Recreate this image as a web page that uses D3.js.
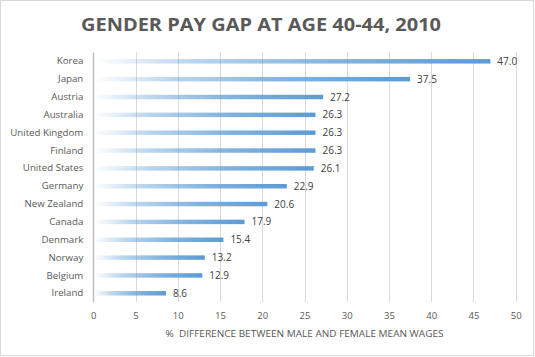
<!DOCTYPE html>
<html><head><meta charset="utf-8">
<script src="https://cdn.jsdelivr.net/npm/d3@7"></script>
<style>body{margin:0;background:#fff}svg{display:block}</style>
</head><body>
<script>
const countries = ["Korea","Japan","Austria","Australia","United Kingdom","Finland","United States","Germany","New Zealand","Canada","Denmark","Norway","Belgium","Ireland"];
const gaps = [47.0,37.5,27.2,26.3,26.3,26.3,26.1,22.9,20.6,17.9,15.4,13.2,12.9,8.6];
const xTicks = [0,5,10,15,20,25,30,35,40,45,50];
const title = "GENDER PAY GAP AT AGE 40-44, 2010";
const xTitle = "%  DIFFERENCE BETWEEN MALE AND FEMALE MEAN WAGES";

const W = 535, H = 357;
const m = {left: 93.3, right: 19.3, top: 52.4, bottom: 54.8};
const svg = d3.select("body").append("svg").attr("width", W).attr("height", H);
const font = "'Open Sans', 'Liberation Sans', sans-serif";

svg.append("rect").attr("x",0.5).attr("y",0.5).attr("width",W-2).attr("height",H-2)
  .attr("fill","#fff").attr("stroke","#d9d9d9").attr("stroke-width",1);

const x = d3.scaleLinear().domain([0,50]).range([m.left, W - m.right]);
const y = d3.scaleBand().domain(countries).range([m.top, H - m.bottom]).paddingInner(0.75).paddingOuter(0.375);

const defs = svg.append("defs");
const g = defs.append("linearGradient").attr("id","barGrad").attr("x1","0").attr("x2","1").attr("y1","0").attr("y2","0");
[[0,0.0],[0.25,0.42],[0.6,0.76],[1,1]].forEach(([o,a]) =>
  g.append("stop").attr("offset",o).attr("stop-color","#5b9bd5").attr("stop-opacity",a));

// gridlines
svg.append("g").selectAll("line").data(xTicks).join("line")
  .attr("x1", d => Math.round(x(d))+0.5).attr("x2", d => Math.round(x(d))+0.5)
  .attr("y1", m.top).attr("y2", H - m.bottom)
  .attr("stroke", d => d === 0 ? "#bfbfbf" : "#d9d9d9").attr("stroke-width", d => d===0 ? 1.5 : 1);

// bars
svg.append("g").selectAll("rect").data(countries).join("rect")
  .attr("x", x(0)+1).attr("y", d => y(d))
  .attr("width", (d,i) => x(gaps[i]) - x(0) - 1).attr("height", y.bandwidth())
  .attr("fill","url(#barGrad)");

// value labels
svg.append("g").selectAll("text").data(countries).join("text")
  .attr("x", (d,i) => x(gaps[i]) + 7).attr("y", d => y(d) + y.bandwidth()/2)
  .attr("dy","0.35em").attr("font-family",font).attr("font-size",10).attr("fill","#404040")
  .text((d,i) => gaps[i].toFixed(1));

// category axis
const yAxis = svg.append("g").attr("transform",`translate(${m.left},0)`)
  .call(d3.axisLeft(y).tickSize(0).tickPadding(10));
yAxis.select(".domain").remove();
yAxis.selectAll("text").attr("font-family",font).attr("font-size",9.7).attr("fill","#595959");

// x axis
const xAxis = svg.append("g").attr("transform",`translate(0,${H - m.bottom})`)
  .call(d3.axisBottom(x).tickValues(xTicks).tickSize(0).tickPadding(10.5).tickFormat(d3.format("d")));
xAxis.select(".domain").remove();
xAxis.selectAll("text").attr("font-family",font).attr("font-size",9.5).attr("fill","#595959");

svg.append("text").attr("x",(x(0)+x(50))/2).attr("y",337).attr("text-anchor","middle")
  .attr("font-family",font).attr("font-size",9).attr("fill","#595959")
  .style("white-space","pre").attr("xml:space","preserve")
  .attr("textLength",278).attr("lengthAdjust","spacingAndGlyphs").text(xTitle);

svg.append("text").attr("x",261).attr("y",30.5).attr("text-anchor","middle")
  .attr("font-family",font).attr("font-weight","bold").attr("font-size",18).attr("fill","#595959")
  .attr("textLength",360).attr("lengthAdjust","spacingAndGlyphs").text(title);
</script>
</body></html>
